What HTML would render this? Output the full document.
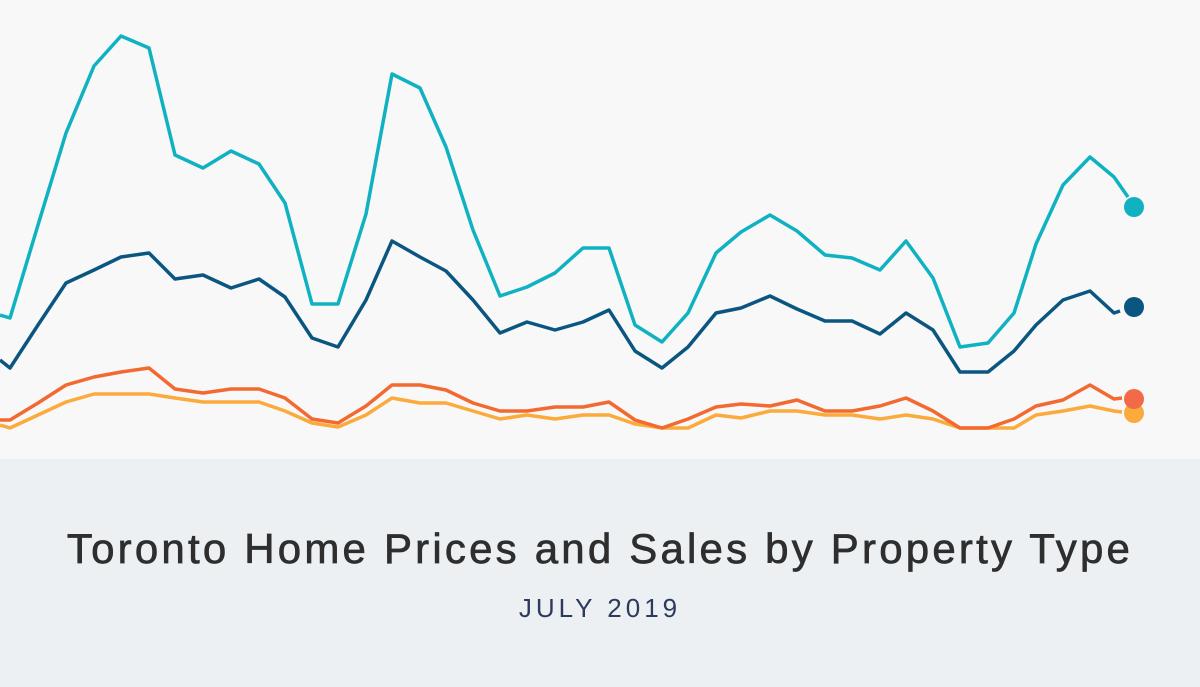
<!DOCTYPE html>
<html><head><meta charset="utf-8"><style>
html,body{margin:0;padding:0;width:1200px;height:687px;overflow:hidden;background:#f8f8f8;font-family:"Liberation Sans",sans-serif}
.b{position:absolute;left:0;top:459px;width:1200px;height:228px;background:#ecf0f3}
.t{position:absolute;left:0;width:1200px;text-align:center;top:525px;font-size:42px;color:#2e2e2e;letter-spacing:3.2px;-webkit-text-stroke:0.7px #2e2e2e}
.s{position:absolute;left:0;width:1200px;text-align:center;top:593px;font-size:26px;color:#2d3a5c;letter-spacing:4px}
svg{position:absolute;left:0;top:0}
</style></head><body>
<svg width="1200" height="459">
<g fill="none" stroke-width="3.5" stroke-linejoin="round">
<polyline stroke="#10b2c2" points="0,315 10,318 38,225 66,133 94,66 121,36 149,48 175,155 203,168 231,151 259,164 285,203 312,304 338,304 366,214 392,74 420,88 446,147 473,230 500,296 527,287 555,273 583,248 609,248 635,325 662,342 688,313 716,253 741,232 770,215 797,231 825,255 852,258 880,270 906,241 933,278 960,347 988,343 1014,313 1036,244 1063,185 1090,157 1114,177 1128,197"/>
<polyline stroke="#0b5680" points="0,360 10,368 38,325 66,283 94,270 121,257 149,253 175,279 203,275 231,288 259,279 285,297 312,338 338,347 366,300 392,241 420,257 446,271 473,300 500,333 527,322 555,330 583,322 609,310 635,351 662,368 688,347 716,313 741,308 770,296 797,309 825,321 852,321 880,334 906,313 933,330 960,372 988,372 1014,351 1036,325 1063,300 1090,291 1114,313 1120,311"/>
<polyline stroke="#fbaa3c" points="0,425 10,428 38,415 66,402 94,394 121,394 149,394 175,398 203,402 231,402 259,402 285,411 312,423 338,427 366,415 392,398 420,403 446,403 473,411 500,419 527,415 555,419 583,415 609,415 635,424 662,428 688,428 716,415 741,418 770,411 797,411 825,415 852,415 880,419 906,415 933,419 960,428 988,428 1014,428 1036,415 1063,411 1090,406 1114,411 1122,412"/>
<polyline stroke="#f26a30" points="0,420 10,420 38,403 66,385 94,377 121,372 149,368 175,389 203,393 231,389 259,389 285,398 312,419 338,423 366,406 392,385 420,385 446,390 473,403 500,411 527,411 555,407 583,407 609,402 635,420 662,428 688,419 716,407 741,404 770,406 797,400 825,411 852,411 880,406 906,398 933,411 960,428 988,428 1014,419 1036,406 1063,400 1090,385 1114,399 1122,398"/>
</g>
<circle cx="1134" cy="207" r="10" fill="#10b2c2"/>
<circle cx="1134" cy="307" r="10" fill="#0b5680"/>
<circle cx="1134" cy="413" r="10" fill="#fbaa3c"/>
<circle cx="1134" cy="399" r="10" fill="#f26a47"/>
</svg>
<div class="b"></div>
<div class="t">Toronto Home Prices and Sales by Property Type</div>
<div class="s">JULY 2019</div>
</body></html>
